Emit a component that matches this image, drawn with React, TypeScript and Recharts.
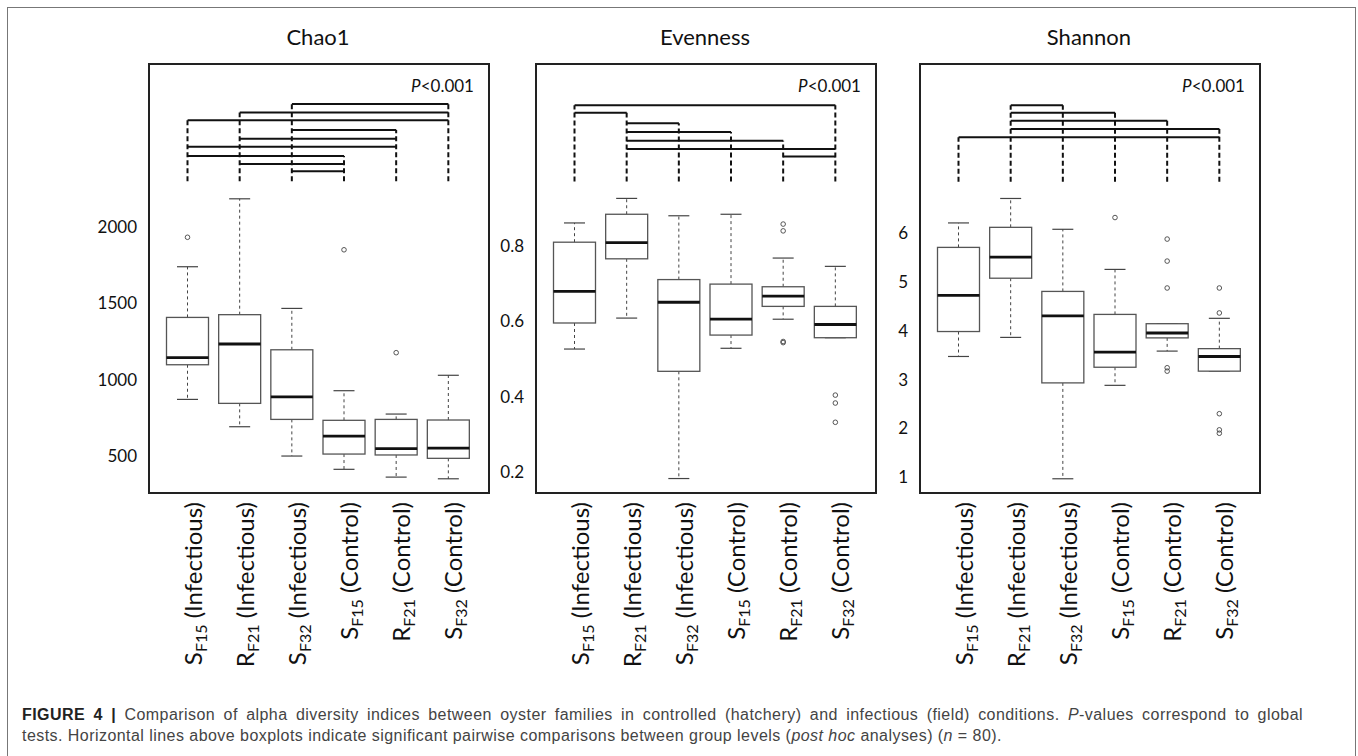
import React from 'react';
import { ComposedChart, Bar, Line, XAxis, YAxis } from 'recharts';

// group labels (letter + subscript + condition)
const groupLetter = ['S', 'R', 'S', 'S', 'R', 'S'];
const groupSub = ['F15', 'F21', 'F32', 'F15', 'F21', 'F32'];
const groupCond = ['(Infectious)', '(Infectious)', '(Infectious)', '(Control)', '(Control)', '(Control)'];

// Chao1
const chaoLo = [871, 692, 500, 413, 362, 351];
const chaoQ1 = [1098, 845, 740, 513, 507, 485];
const chaoMed = [1144, 1234, 888, 631, 548, 552];
const chaoQ3 = [1408, 1426, 1196, 734, 740, 736];
const chaoHi = [1740, 2185, 1467, 928, 775, 1029];
const chaoOut = [[1933], [], [], [1851], [1177], []];
const chaoBrackets = [
  [3, 6, 2806], [2, 6, 2751], [1, 6, 2699], [3, 5, 2635], [2, 5, 2578],
  [1, 5, 2526], [1, 4, 2465], [2, 4, 2413], [3, 4, 2365],
];
const chaoBase = 2300;
const chaoTicks = [500, 1000, 1500, 2000];
const chaoDomain = [271, 3068];

// Evenness
const evenLo = [0.526, 0.608, 0.183, 0.528, 0.605, 0.556];
const evenQ1 = [0.595, 0.765, 0.467, 0.563, 0.639, 0.556];
const evenMed = [0.679, 0.808, 0.65, 0.605, 0.666, 0.591];
const evenQ3 = [0.809, 0.883, 0.71, 0.698, 0.691, 0.639];
const evenHi = [0.86, 0.925, 0.879, 0.883, 0.767, 0.745];
const evenOut = [[], [], [], [], [0.857, 0.839, 0.546, 0.543], [0.404, 0.383, 0.332]];
const evenBrackets = [
  [1, 6, 1.172], [1, 2, 1.152], [2, 3, 1.124], [2, 4, 1.101],
  [2, 5, 1.078], [2, 6, 1.056], [5, 6, 1.036],
];
const evenBase = 0.97;
const evenTicks = [0.2, 0.4, 0.6, 0.8];
const evenDomain = [0.15, 1.281];

// Shannon
const shanLo = [3.47, 3.86, 0.97, 2.88, 3.58, 3.17];
const shanQ1 = [3.98, 5.07, 2.93, 3.25, 3.85, 3.17];
const shanMed = [4.72, 5.5, 4.3, 3.56, 3.95, 3.47];
const shanQ3 = [5.7, 6.11, 4.8, 4.33, 4.14, 3.63];
const shanHi = [6.2, 6.7, 6.07, 5.25, 4.14, 4.25];
const shanOut = [[], [], [], [6.31], [5.87, 5.42, 4.87, 3.24, 3.17], [4.87, 4.36, 2.3, 1.97, 1.9]];
const shanBrackets = [[2, 3, 8.604], [2, 4, 8.453], [2, 5, 8.29], [2, 6, 8.12], [1, 6, 7.95]];
const shanBase = 7.04;
const shanTicks = [1, 2, 3, 4, 5, 6];
const shanDomain = [0.72, 9.449];

const FONT = 'Lato, "Open Sans", sans-serif';
const PLOT_W = 338;
const PLOT_H = 427;
const PLOT_TOP = 64;

function buildRows(lo, q1, med, q3, hi, out, brackets, base) {
  return groupLetter.map((_, i) => {
    const g = i + 1;
    const tops = brackets.filter((b) => b[0] === g || b[1] === g).map((b) => b[2]);
    const dropTop = tops.length ? Math.max(...tops) : base;
    const row: any = {
      name: 'g' + i,
      lo: lo[i], q1: q1[i], med: med[i], q3: q3[i], hi: hi[i],
      out: out[i], base, dropTop,
      span: [Math.min(lo[i], ...out[i]), dropTop],
    };
    brackets.forEach((b, k) => {
      row['b' + k] = g >= b[0] && g <= b[1] ? b[2] : null;
    });
    return row;
  });
}

const BoxShape = (props: any) => {
  const { x, y, width, height, payload } = props;
  if (!payload) return null;
  const top = Math.min(y, y + height);
  const bot = Math.max(y, y + height);
  const [vMin, vMax] = payload.span;
  const py = (v: number) => top + ((vMax - v) / (vMax - vMin)) * (bot - top);
  const cx = x + width / 2;
  const hw = width / 2;
  const cw = width / 4;
  return (
    <g>
      <line x1={cx} x2={cx} y1={py(payload.base)} y2={py(payload.dropTop)} stroke="#111" strokeWidth={2} strokeDasharray="5 3" />
      <line x1={cx} x2={cx} y1={py(payload.q3)} y2={py(payload.hi)} stroke="#444" strokeWidth={1} strokeDasharray="3 3" />
      <line x1={cx} x2={cx} y1={py(payload.q1)} y2={py(payload.lo)} stroke="#444" strokeWidth={1} strokeDasharray="3 3" />
      <line x1={cx - cw} x2={cx + cw} y1={py(payload.hi)} y2={py(payload.hi)} stroke="#444" strokeWidth={1.2} />
      <line x1={cx - cw} x2={cx + cw} y1={py(payload.lo)} y2={py(payload.lo)} stroke="#444" strokeWidth={1.2} />
      <rect x={cx - hw} y={py(payload.q3)} width={width} height={py(payload.q1) - py(payload.q3)} fill="#fff" stroke="#555" strokeWidth={1.3} />
      <line x1={cx - hw} x2={cx + hw} y1={py(payload.med)} y2={py(payload.med)} stroke="#111" strokeWidth={2.8} />
      {payload.out.map((v: number, k: number) => (
        <circle key={k} cx={cx} cy={py(v)} r={2.3} fill="none" stroke="#444" strokeWidth={0.9} />
      ))}
    </g>
  );
};

const GroupTick = (props: any) => {
  const { x, y, payload } = props;
  const i = Number(String(payload.value).slice(1));
  const tx = x + 14;
  const ty = y + 11;
  return (
    <text x={tx} y={ty} transform={`rotate(-90, ${tx}, ${ty})`} textAnchor="end" fontFamily={FONT} fontSize={24} fill="#111">
      <tspan>{groupLetter[i]}</tspan>
      <tspan fontSize={16} dy={5}>{groupSub[i]}</tspan>
      <tspan dy={-5}>{'\u00A0' + groupCond[i]}</tspan>
    </text>
  );
};

function Panel({ left, title, rows, brackets, ticks, domain }) {
  const chartLeft = left - 70;
  return (
    <>
      <div style={{ position: 'absolute', left, top: 24, width: PLOT_W, textAlign: 'center', fontFamily: FONT, fontSize: 22, color: '#111', lineHeight: '26px' }}>
        {title}
      </div>
      <div style={{ position: 'absolute', left: chartLeft, top: 0 }}>
        <ComposedChart width={70 + PLOT_W + 10} height={690} data={rows} margin={{ top: PLOT_TOP, right: 10, bottom: 9, left: 0 }}>
          <XAxis dataKey="name" height={190} axisLine={false} tickLine={false} tickSize={0} tickMargin={0} padding={{ left: 12.5, right: 12.5 }} tick={(p) => <GroupTick {...p} />} interval={0} />
          <YAxis width={70} type="number" domain={domain} ticks={ticks} allowDataOverflow axisLine={false} tickLine={false} tickSize={0} tickMargin={12} tick={{ fontFamily: FONT, fontSize: 17, fill: '#111' }} />
          <Bar dataKey="span" barSize={42} isAnimationActive={false} shape={(p) => <BoxShape {...p} />} />
          {brackets.map((_, k) => (
            <Line key={k} dataKey={'b' + k} stroke="#111" strokeWidth={2} dot={false} activeDot={false} isAnimationActive={false} connectNulls={false} />
          ))}
        </ComposedChart>
      </div>
      <div style={{ position: 'absolute', left: left - 1, top: PLOT_TOP - 1, width: PLOT_W, height: PLOT_H, border: '2px solid #222', boxSizing: 'content-box', pointerEvents: 'none' }} />
      <div style={{ position: 'absolute', left, top: PLOT_TOP + 12, width: PLOT_W - 13, textAlign: 'right', fontFamily: FONT, fontSize: 17, color: '#111', lineHeight: '20px' }}>
        <i>P</i>&lt;0.001
      </div>
    </>
  );
}

export default function App() {
  const chaoRows = buildRows(chaoLo, chaoQ1, chaoMed, chaoQ3, chaoHi, chaoOut, chaoBrackets, chaoBase);
  const evenRows = buildRows(evenLo, evenQ1, evenMed, evenQ3, evenHi, evenOut, evenBrackets, evenBase);
  const shanRows = buildRows(shanLo, shanQ1, shanMed, shanQ3, shanHi, shanOut, shanBrackets, shanBase);
  const capStyle: React.CSSProperties = {
    position: 'absolute', left: 22, fontFamily: '"Liberation Sans", Arial, sans-serif',
    fontSize: 16, letterSpacing: '0.45px', color: '#444', lineHeight: '21px',
  };
  return (
    <div style={{ position: 'absolute', left: 0, top: 0, width: 1358, height: 756, overflow: 'hidden', background: '#fff' }}>
      <div style={{ position: 'absolute', left: 7, top: 7, width: 1347, height: 800, border: '1px solid #777' }} />
      <Panel left={149} title="Chao1" rows={chaoRows} brackets={chaoBrackets} ticks={chaoTicks} domain={chaoDomain} />
      <Panel left={536} title="Evenness" rows={evenRows} brackets={evenBrackets} ticks={evenTicks} domain={evenDomain} />
      <Panel left={920} title="Shannon" rows={shanRows} brackets={shanBrackets} ticks={shanTicks} domain={shanDomain} />
      <div style={{ ...capStyle, top: 704, width: 1281, textAlign: 'justify', textAlignLast: 'justify' }}>
        <b style={{ color: '#222' }}>FIGURE 4 |</b> Comparison of alpha diversity indices between oyster families in controlled (hatchery) and infectious (field) conditions. <i>P</i>-values correspond to global
      </div>
      <div style={{ ...capStyle, top: 725, whiteSpace: 'nowrap' }}>
        tests. Horizontal lines above boxplots indicate significant pairwise comparisons between group levels (<i>post hoc</i> analyses) (<i>n</i> = 80).
      </div>
    </div>
  );
}
